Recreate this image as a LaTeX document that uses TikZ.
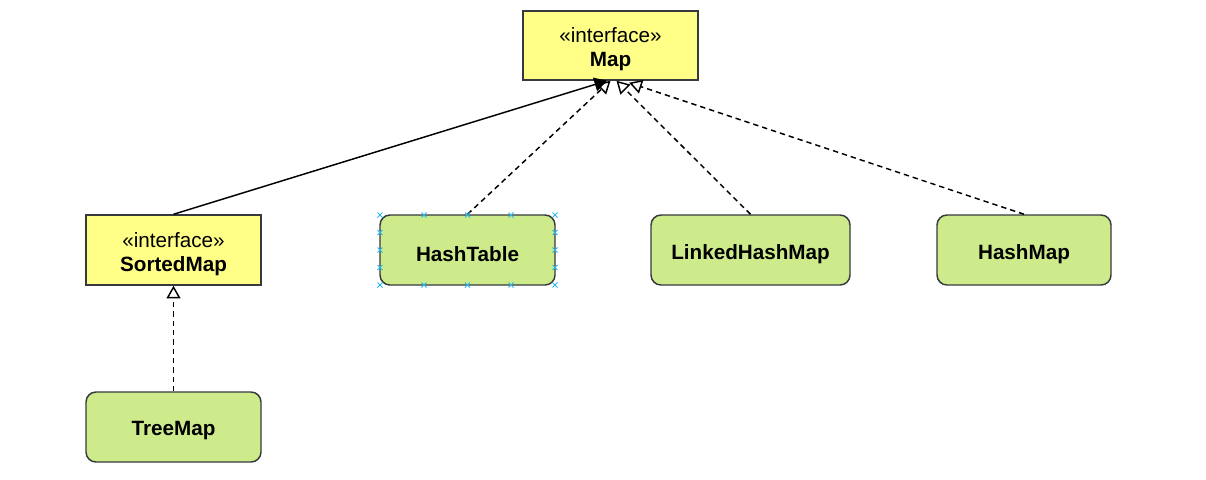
\documentclass[tikz,border=0pt]{standalone}
\usepackage{fontspec}
\setmainfont{Liberation Sans}
\usetikzlibrary{arrows.meta}
\definecolor{ifill}{HTML}{FFFF88}
\definecolor{cfill}{HTML}{CDEB8B}
\definecolor{bstroke}{HTML}{36393D}
\definecolor{handle}{HTML}{29B6F2}
\tikzset{
  lbl/.style={align=center, inner sep=0pt, font=\fontsize{15.5}{18}\selectfont, yshift=-2.8pt},
  base/.style={draw=bstroke, line width=1.1pt, minimum height=52.5pt, minimum width=131.25pt,
    inner sep=0pt},
  iface/.style={base, fill=ifill, label={[lbl]center:#1}},
  cls/.style={base, fill=cfill, rounded corners=7.5pt, label={[lbl, font=\fontsize{15.5}{18}\selectfont\bfseries]center:#1}},
  rel/.style={line width=1.1pt, black},
  realize/.style={rel, dash pattern=on 4pt off 3pt, -{Triangle[length=9.5pt,width=10.5pt,fill=white]}},
  inherit/.style={rel, -{Triangle[length=9.5pt,width=10.5pt,fill=black]}},
  hcross/.style={draw=handle, line width=0.6pt}
}
\begin{document}
\begin{tikzpicture}[x=0.75pt,y=-0.75pt]
\useasboundingbox (0,0) rectangle (1206,479);
\node[iface={«interface»\\\textbf{Map}}, minimum height=51.75pt] (map) at (610.5,45.5) {};
\node[iface={«interface»\\\textbf{SortedMap}}] (sorted) at (173.5,250) {};
\node[cls={HashTable}] (table) at (467.5,250) {};
\node[cls={LinkedHashMap}, minimum width=149.25pt] (linked) at (750.5,250) {};
\node[cls={HashMap}, minimum width=130.5pt] (hash) at (1024,250) {};
\node[cls={TreeMap}] (tree) at (173.5,427) {};
% connectors
\draw[realize] (table.north) -- ([xshift=0pt]map.south);
\draw[realize] (linked.north) -- ([xshift=4.5pt]map.south);
\draw[realize] (hash.north) -- ([xshift=14pt,yshift=-1.5pt]map.south);
\draw[inherit] (sorted.north) -- ([xshift=-2.5pt]map.south);
\draw[realize] (tree.north) -- (sorted.south);
% selection handles
\foreach \hx in {380,424,467.5,511,555}{
  \foreach \hy in {215,285}{
    \draw[hcross] (\hx-2.5,\hy-2.5) -- (\hx+2.5,\hy+2.5) (\hx-2.5,\hy+2.5) -- (\hx+2.5,\hy-2.5);
  }
}
\foreach \hx in {380,555}{
  \foreach \hy in {232.5,250,267.5}{
    \draw[hcross] (\hx-2.5,\hy-2.5) -- (\hx+2.5,\hy+2.5) (\hx-2.5,\hy+2.5) -- (\hx+2.5,\hy-2.5);
  }
}
\end{tikzpicture}
\end{document}
